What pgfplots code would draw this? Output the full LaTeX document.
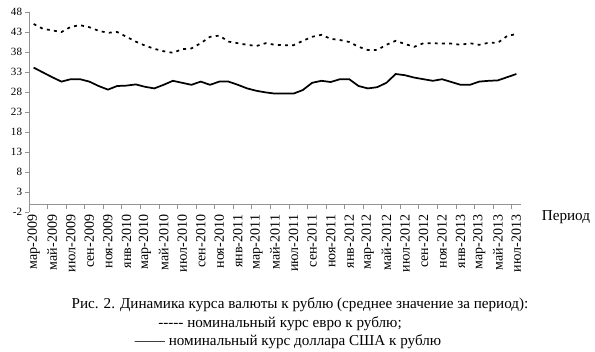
\documentclass[border=0pt]{standalone}
\usepackage{fontspec}
\setmainfont{Liberation Serif}
\usepackage{pgfplots}
\pgfplotsset{compat=1.18}
\begin{document}
\begin{tikzpicture}
\begin{axis}[
  scale only axis, width=369pt, height=150pt,
  xmin=-0.5, xmax=52.5, ymin=-2, ymax=48,
  axis x line=middle, axis y line=left,
  axis line style={-, draw=gray!85, line width=0.6pt},
  tick style={draw=gray!85, line width=0.6pt},
  ytick={-2,3,...,48},
  xtick={0,2,...,52},
  xticklabels={мар-2009,май-2009,июл-2009,сен-2009,ноя-2009,янв-2010,мар-2010,май-2010,июл-2010,сен-2010,ноя-2010,янв-2011,мар-2011,май-2011,июл-2011,сен-2011,ноя-2011,янв-2012,мар-2012,май-2012,июл-2012,сен-2012,ноя-2012,янв-2013,мар-2013,май-2013,июл-2013},
  minor xtick={-0.5,1.5,...,51.5},
  major x tick style={draw=none},
  tick align=outside,
  major tick length=3pt, minor tick length=3.5pt,
  xticklabel style={rotate=90, anchor=east, font=\fontsize{10.5}{12}\selectfont, inner sep=0pt},
  xticklabel shift=5pt,
  yticklabel style={font=\fontsize{8.3}{10}\selectfont, inner sep=2pt},
  /pgf/number format/assume math mode=true,
  clip=false,
]
\addplot[black, line width=1.3pt, dash pattern=on 2.2pt off 3.2pt] coordinates {
(0,45.0)(1,43.8)(2,43.4)(3,43.0)(4,44.3)(5,44.7)(6,44.2)(7,43.3)(8,42.8)(9,43.0)
(10,41.8)(11,40.6)(12,39.6)(13,38.8)(14,38.2)(15,37.8)(16,38.7)(17,38.9)(18,40.2)(19,41.8)
(20,42.1)(21,40.6)(22,40.2)(23,39.8)(24,39.5)(25,40.2)(26,39.8)(27,39.7)(28,39.7)(29,40.8)
(30,41.8)(31,42.3)(32,41.3)(33,41.0)(34,40.5)(35,39.3)(36,38.5)(37,38.5)(38,39.8)(39,40.8)
(40,40.0)(41,39.3)(42,40.2)(43,40.2)(44,40.1)(45,40.1)(46,39.8)(47,40.2)(48,39.8)(49,40.3)
(50,40.3)(51,42.0)(52,42.5)};
\addplot[black, line width=1.3pt] coordinates {
(0,34.1)(1,32.9)(2,31.7)(3,30.6)(4,31.2)(5,31.2)(6,30.6)(7,29.5)(8,28.6)(9,29.5)
(10,29.6)(11,29.9)(12,29.3)(13,28.9)(14,29.8)(15,30.8)(16,30.3)(17,29.8)(18,30.6)(19,29.8)
(20,30.6)(21,30.6)(22,29.8)(23,28.9)(24,28.3)(25,27.9)(26,27.6)(27,27.6)(28,27.6)(29,28.5)
(30,30.3)(31,30.8)(32,30.5)(33,31.2)(34,31.2)(35,29.5)(36,28.9)(37,29.2)(38,30.3)(39,32.5)
(40,32.2)(41,31.6)(42,31.2)(43,30.8)(44,31.2)(45,30.5)(46,29.8)(47,29.8)(48,30.6)(49,30.8)
(50,30.9)(51,31.7)(52,32.5)};
\coordinate (O) at (rel axis cs:0,0);
\end{axis}
\node[font=\fontsize{11.35}{13}\selectfont] at ([shift={(402.75pt,-3.75pt)}]O) {Период};
\node[font=\fontsize{11.35}{13}\selectfont] at ([shift={(203.25pt,-69.75pt)}]O) {Рис. 2. Динамика курса валюты к рублю (среднее значение за период):};
\node[font=\fontsize{11.35}{13}\selectfont] at ([shift={(188.25pt,-84pt)}]O) {\mbox{-}\mbox{-}\mbox{-}\mbox{-}\mbox{-} номинальный курс евро к рублю;};
\node[font=\fontsize{11.35}{13}\selectfont] at ([shift={(194.25pt,-97.5pt)}]O) {——\ номинальный курс доллара США к рублю};
\pgfresetboundingbox
\path ([shift={(-21.75pt,-104.25pt)}]O) rectangle ([shift={(424.5pt,159pt)}]O);
\end{tikzpicture}
\end{document}
